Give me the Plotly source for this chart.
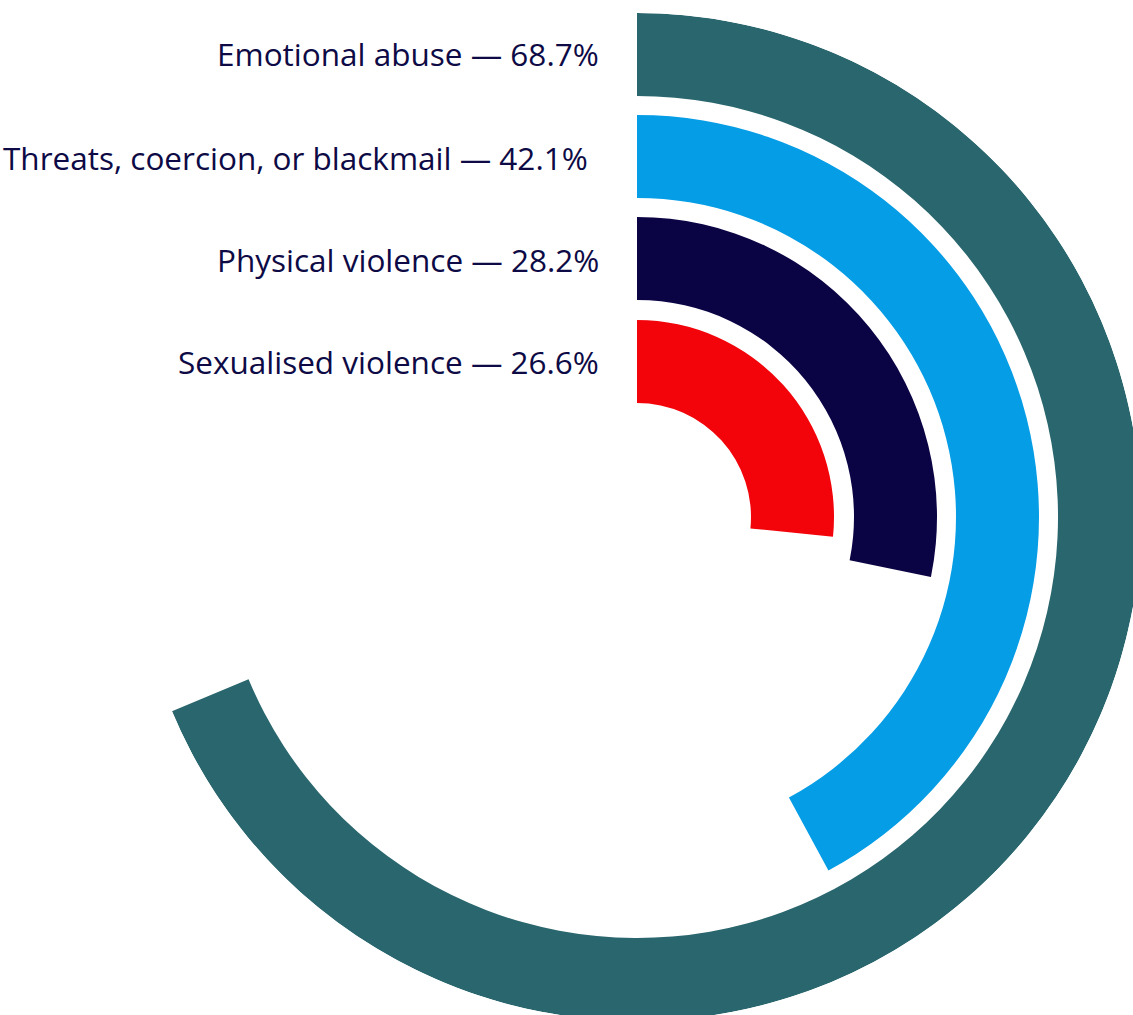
import plotly.graph_objects as go

categories = ["Emotional abuse", "Threats, coercion, or blackmail", "Physical violence", "Sexualised violence"]
percentages = [68.7, 42.1, 28.2, 26.6]
colors = ["#29666d", "#059de6", "#0b0444", "#f2040a"]

# ring geometry (radial units == pixels)
outer_r = [504, 402, 300, 197]
thickness = 83

W, H = 1141, 1021
CX, CY, R = 637, 517, 504

fig = go.Figure()
for cat, pct, col, ro in zip(categories, percentages, colors, outer_r):
    fig.add_trace(go.Barpolar(
        r=[thickness], base=[ro - thickness],
        theta=[pct * 3.6 / 2], width=[pct * 3.6],
        marker=dict(color=col, line=dict(width=0)),
        name=cat, hoverinfo="skip",
    ))

annotations = []
label_y = [53, 157, 259, 361]
label_x = [601, 590, 601, 601]
for cat, pct, y, x in zip(categories, percentages, label_y, label_x):
    annotations.append(dict(
        text=f"{cat} — {pct:.1f}%", x=x / W,
        y=1 - y / H, xref="paper", yref="paper", xanchor="right", yanchor="middle",
        showarrow=False, font=dict(family="Open Sans", size=31.5, color="#0d0a45"),
    ))

fig.update_layout(
    width=W, height=H, margin=dict(l=0, r=0, t=0, b=0),
    paper_bgcolor="white", showlegend=False,
    polar=dict(
        domain=dict(x=[(CX - R) / W, (CX + R) / W], y=[1 - (CY + R) / H, 1 - (CY - R) / H]),
        bgcolor="white",
        radialaxis=dict(range=[0, R], visible=False),
        angularaxis=dict(direction="clockwise", rotation=90, visible=False),
        barmode="overlay",
    ),
    annotations=annotations,
)

fig.write_html("out.html", config={"displayModeBar": False},
               post_script="document.body.style.margin='0';document.body.style.overflow='hidden';")
